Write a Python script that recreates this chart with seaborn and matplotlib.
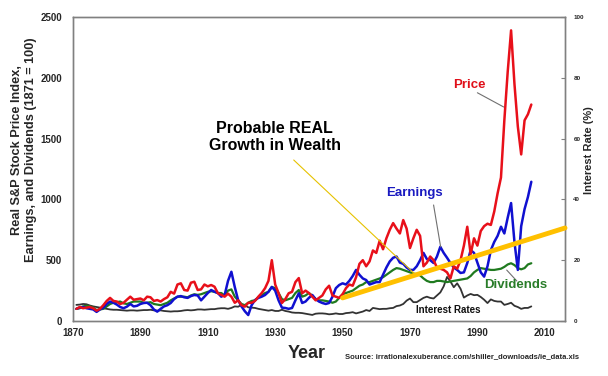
import matplotlib
matplotlib.use("Agg")
import matplotlib.pyplot as plt
import seaborn as sns
import pandas as pd

years = list(range(1871, 2007))

price = [100, 115, 105, 110, 115, 105, 85, 100, 130, 165,
         190, 165, 160, 140, 150, 175, 200, 175, 180, 185,
         170, 200, 195, 165, 172, 160, 180, 195, 240, 225,
         300, 310, 255, 250, 315, 323, 255, 260, 300, 285,
         296, 282, 228, 215, 200, 225, 200, 150, 170, 130,
         118, 150, 150, 165, 200, 230, 270, 330, 500, 300,
         230, 148, 180, 228, 240, 320, 353, 228, 250, 230,
         200, 170, 190, 210, 260, 290, 210, 200, 190, 220,
         270, 300, 290, 360, 470, 500, 450, 490, 580, 560,
         660, 590, 680, 750, 805, 760, 720, 830, 760, 600,
         680, 750, 700, 450, 480, 530, 500, 440, 430, 420,
         400, 350, 450, 430, 500, 620, 775, 550, 680, 620,
         740, 780, 800, 790, 900, 1050, 1180, 1650, 2050, 2390,
         1950, 1600, 1370, 1650, 1700, 1780]

earnings = [100, 110, 115, 105, 100, 95, 75, 95, 110, 140,
            160, 150, 135, 115, 105, 118, 140, 120, 125, 140,
            148, 150, 130, 95, 77, 100, 120, 130, 148, 180,
            200, 205, 195, 190, 205, 214, 210, 170, 200, 230,
            255, 240, 230, 200, 214, 330, 405, 280, 172, 120,
            80, 49, 130, 172, 190, 200, 214, 240, 280, 250,
            170, 110, 107, 100, 107, 170, 228, 148, 160, 190,
            214, 180, 160, 148, 140, 148, 200, 270, 296, 310,
            300, 330, 370, 420, 380, 350, 337, 300, 310, 320,
            320, 380, 440, 490, 520, 530, 480, 470, 440, 420,
            420, 450, 500, 560, 510, 500, 477, 530, 610, 560,
            520, 477, 440, 420, 395, 400, 477, 583, 560, 480,
            400, 365, 450, 583, 650, 700, 775, 720, 850, 970,
            650, 420, 780, 920, 1020, 1145]

dividends = [100, 105, 120, 125, 120, 110, 90, 95, 100, 120,
             140, 150, 155, 160, 145, 140, 150, 160, 160, 160,
             150, 150, 155, 140, 135, 130, 140, 150, 170, 185,
             200, 200, 200, 195, 210, 220, 215, 220, 230, 240,
             245, 240, 230, 230, 210, 250, 260, 200, 170, 140,
             130, 150, 165, 170, 195, 210, 230, 240, 280, 270,
             230, 180, 170, 180, 190, 230, 255, 200, 210, 230,
             210, 180, 170, 170, 165, 160, 150, 160, 190, 220,
             230, 240, 250, 270, 290, 300, 320, 320, 330, 340,
             350, 360, 380, 400, 420, 435, 430, 420, 410, 400,
             390, 385, 375, 350, 330, 320, 320, 330, 330, 325,
             320, 325, 330, 335, 340, 345, 350, 370, 400, 420,
             435, 430, 425, 420, 420, 425, 430, 445, 465, 475,
             460, 435, 425, 435, 465, 475]

rates = [5.3, 5.4, 5.6, 5.5, 5.1, 4.8, 4.6, 4.4, 4.2, 4.0,
         3.8, 3.7, 3.7, 3.6, 3.5, 3.4, 3.5, 3.5, 3.4, 3.5,
         3.6, 3.6, 3.7, 3.5, 3.4, 3.5, 3.3, 3.2, 3.1, 3.2,
         3.2, 3.3, 3.5, 3.6, 3.5, 3.6, 3.8, 3.8, 3.7, 3.8,
         3.9, 3.9, 4.1, 4.2, 4.2, 4.0, 4.3, 4.8, 4.7, 5.3,
         5.2, 4.5, 4.4, 4.3, 4.0, 3.8, 3.6, 3.4, 3.6, 3.3,
         3.3, 3.7, 3.3, 3.1, 2.8, 2.7, 2.7, 2.6, 2.4, 2.2,
         2.0, 2.4, 2.5, 2.5, 2.4, 2.2, 2.3, 2.5, 2.3, 2.3,
         2.6, 2.7, 2.9, 2.5, 2.8, 3.1, 3.6, 3.3, 4.3, 4.1,
         3.9, 4.0, 4.0, 4.2, 4.3, 4.9, 5.1, 5.6, 6.7, 7.4,
         6.2, 6.2, 6.9, 7.6, 8.0, 7.6, 7.4, 8.4, 9.4, 11.4,
         14.5, 13.0, 11.1, 12.4, 10.6, 7.7, 8.4, 8.9, 8.5, 8.6,
         7.9, 7.0, 5.9, 7.1, 6.6, 6.4, 6.4, 5.3, 5.6, 6.0,
         5.0, 4.6, 4.0, 4.3, 4.3, 4.8]

trend_years = [1950, 2016]
trend_values = [190, 765]

df = pd.DataFrame({"Year": years, "Price": price, "Earnings": earnings,
                   "Dividends": dividends, "Rate": rates})
trend = pd.DataFrame({"Year": trend_years, "Value": trend_values})

sns.set_style("white")
plt.rcParams["font.family"] = ["Liberation Sans", "DejaVu Sans"]
plt.rcParams["font.weight"] = "bold"

fig = plt.figure(figsize=(6.08, 3.76), dpi=100)
ax = fig.add_axes([73 / 608, 1 - 321 / 376, 492 / 608, 304 / 376])
ax2 = ax.twinx()

sns.lineplot(data=df, x="Year", y="Rate", ax=ax2, color="#333333", lw=1.3)
sns.lineplot(data=df, x="Year", y="Dividends", ax=ax, color="#1f7a1f", lw=1.6)
sns.lineplot(data=df, x="Year", y="Earnings", ax=ax, color="#1010d0", lw=1.8)
sns.lineplot(data=df, x="Year", y="Price", ax=ax, color="#e8101a", lw=1.8)
sns.lineplot(data=trend, x="Year", y="Value", ax=ax, color="#ffc000", lw=3.5,
             clip_on=False, zorder=5)

ax.set_zorder(ax2.get_zorder() + 1)
ax.patch.set_visible(False)

ax.set_xlim(1870, 2016)
ax.set_ylim(0, 2500)
ax2.set_ylim(0, 100)
ax.set_xticks(range(1870, 2011, 20))
ax.set_yticks(range(0, 2501, 500))
ax2.set_yticks(range(0, 101, 20))
ax.set_xlabel("")
ax.set_ylabel("")
ax2.set_ylabel("")

ax.tick_params(axis="x", direction="in", length=4, color="#808080", labelsize=7, pad=5)
ax.tick_params(axis="y", length=0, labelsize=7, pad=8)
ax2.tick_params(axis="y", direction="in", length=3, color="#808080", labelsize=4.5, pad=6)
for a in (ax, ax2):
    for s in a.spines.values():
        s.set_color("#808080")
        s.set_linewidth(1)
    for lab in a.get_xticklabels() + a.get_yticklabels():
        lab.set_fontweight("bold")

# annotations
ax.text(1987.7, 1941, "Price", color="#e0101a", fontsize=9.5, fontweight="bold",
        ha="center", va="center")
ax.plot([1990, 1997.8], [1877, 1760], color="#707070", lw=0.8)
ax.text(1971.2, 1053, "Earnings", color="#1a1ac0", fontsize=9.5, fontweight="bold",
        ha="center", va="center")
ax.plot([1977, 1979.1], [954, 609], color="#707070", lw=0.8)
ax.text(2001.5, 296, "Dividends", color="#2a7d2a", fontsize=9.5, fontweight="bold",
        ha="center", va="center")
ax.plot([1998.7, 2001.7], [419, 329], color="#707070", lw=0.8)
ax.text(1981.5, 90, "Interest Rates", color="#111111", fontsize=7, fontweight="bold",
        ha="center", va="center")
ax.text(1929.8, 1513, "Probable REAL\nGrowth in Wealth", color="black", fontsize=11.5,
        fontweight="bold", ha="center", va="center", linespacing=1.15)
ax.plot([1935.5, 1971.1], [1324, 395], color="#e6c200", lw=0.8)

fig.text(24 / 608, 1 - 150 / 376,
         "Real S&P Stock Price Index,\nEarnings, and Dividends (1871 = 100)",
         rotation=90, ha="center", va="center", fontsize=9.2, fontweight="bold",
         multialignment="center", linespacing=1.2)
fig.text(589 / 608, 1 - 150 / 376, "Interest Rate (%)", rotation=90,
         ha="center", va="center", fontsize=8, fontweight="bold")
fig.text(307 / 608, 1 - 353 / 376, "Year", ha="center", va="center",
         fontsize=13, fontweight="bold")
fig.text(345 / 608, 1 - 357 / 376,
         "Source: irrationalexuberance.com/shiller_downloads/ie_data.xls",
         ha="left", va="center", fontsize=5.5, fontweight="bold")

fig.savefig("out.png", dpi=100)
